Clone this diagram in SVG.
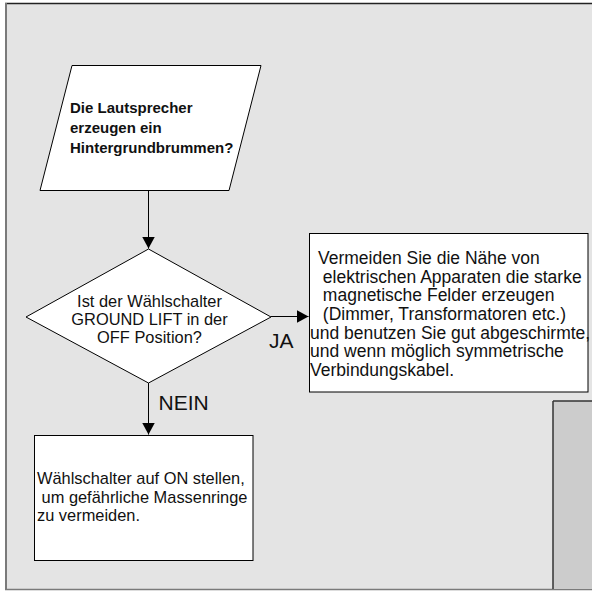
<svg xmlns="http://www.w3.org/2000/svg" width="592" height="591" viewBox="0 0 592 591">
  <style>
    .shape { fill: #ffffff; stroke: #000000; stroke-width: 1; }
    .txt { font-family: "Liberation Sans", Arial, sans-serif; fill: #111111; }
    .bold { font-weight: bold; font-size: 15px; }
    .body { font-size: 16.4px; }
    .note { font-size: 17.5px; }
    .label { font-size: 21px; }
    .wire { stroke: #000000; stroke-width: 1; fill: none; }
  </style>
  <defs>
    <marker id="arrow" viewBox="0 0 12 13" refX="12" refY="6.5" markerWidth="12" markerHeight="13" markerUnits="userSpaceOnUse" orient="auto">
      <path d="M0,0 L12,6.5 L0,13 Z" fill="#000000"/>
    </marker>
  </defs>

  <!-- page background and frame -->
  <rect x="0" y="0" width="592" height="591" fill="#ffffff"/>
  <rect x="6" y="3" width="586" height="587" fill="#e4e4e4"/>
  <line x1="5" y1="3.5" x2="592" y2="3.5" stroke="#222222" stroke-width="1.5"/>
  <line x1="6" y1="3" x2="6" y2="590" stroke="#7a7a7a" stroke-width="2"/>
  <line x1="5" y1="589.5" x2="592" y2="589.5" stroke="#7a7a7a" stroke-width="1.5"/>

  <!-- shaded panel at lower right -->
  <g id="panel">
    <rect x="553" y="401" width="40" height="188" fill="#cccccc"/>
    <line x1="553" y1="401" x2="592" y2="401" stroke="#333333" stroke-width="1.5"/>
    <line x1="553" y1="401" x2="553" y2="589" stroke="#333333" stroke-width="1.5"/>
  </g>

  <g id="connectors">
    <line class="wire" x1="148.5" y1="190" x2="148.5" y2="248.5" marker-end="url(#arrow)"/>
    <line class="wire" x1="271" y1="316.5" x2="308.5" y2="316.5" marker-end="url(#arrow)"/>
    <line class="wire" x1="148.5" y1="383" x2="148.5" y2="434.5" marker-end="url(#arrow)"/>
    <text class="txt label" x="269" y="348">JA</text>
    <text class="txt label" x="158.5" y="410">NEIN</text>
  </g>

  <g id="input-question">
    <polygon class="shape" points="72,65.5 261,65.5 229,190.5 40,190.5"/>
    <text class="txt bold" x="70" y="113">Die Lautsprecher</text>
    <text class="txt bold" x="70" y="133">erzeugen ein</text>
    <text class="txt bold" x="70" y="153">Hintergrundbrummen?</text>
  </g>

  <g id="decision">
    <polygon class="shape" points="148.5,249 271,317 148.5,383 26,317"/>
    <text class="txt body" text-anchor="middle" x="149.5" y="306.5">Ist der Wählschalter</text>
    <text class="txt body" text-anchor="middle" x="149.5" y="324.5">GROUND LIFT in der</text>
    <text class="txt body" text-anchor="middle" x="149.5" y="342.5">OFF Position?</text>
  </g>

  <g id="advice-yes">
    <rect class="shape" x="309.5" y="233.5" width="278.5" height="158.5"/>
    <text class="txt note" xml:space="preserve" x="318" y="264">Vermeiden Sie die Nähe von</text>
    <text class="txt note" xml:space="preserve" x="318" y="282.5"> elektrischen Apparaten die starke</text>
    <text class="txt note" xml:space="preserve" x="318" y="301"> magnetische Felder erzeugen</text>
    <text class="txt note" xml:space="preserve" x="318" y="319.5"> (Dimmer, Transformatoren etc.)</text>
    <text class="txt note" xml:space="preserve" x="310" y="338.5">und benutzen Sie gut abgeschirmte,</text>
    <text class="txt note" xml:space="preserve" x="310" y="357">und wenn möglich symmetrische</text>
    <text class="txt note" xml:space="preserve" x="310" y="375.5">Verbindungskabel.</text>
  </g>

  <g id="advice-no">
    <rect class="shape" x="34.5" y="435.5" width="218.5" height="125"/>
    <text class="txt body" xml:space="preserve" x="37" y="484">Wählschalter auf ON stellen,</text>
    <text class="txt body" xml:space="preserve" x="37" y="502.5"> um gefährliche Massenringe</text>
    <text class="txt body" xml:space="preserve" x="37" y="521">zu vermeiden.</text>
  </g>
</svg>
